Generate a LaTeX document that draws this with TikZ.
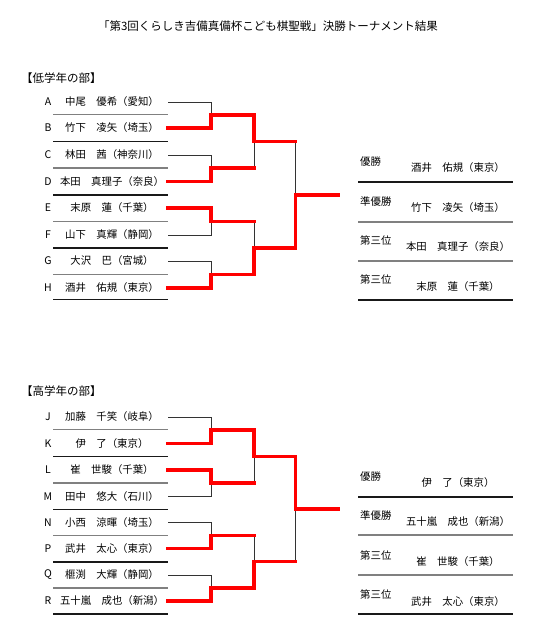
\documentclass[tikz,border=0pt]{standalone}
\usepackage{fontspec}
\setmainfont{Noto Sans CJK JP}
\begin{document}
\begin{tikzpicture}[x=1pt,y=-1pt,
  win/.style={draw=red,line width=3.2pt,line cap=rect,line join=miter},
  lose/.style={draw=black!80,line width=0.9pt},
  ulg/.style={draw=black!50,line width=1.1pt},
  ulb/.style={draw=black!90,line width=1.7pt},
  letter/.style={font=\fontsize{10.5}{12}\selectfont,anchor=center,inner sep=0pt},
  pname/.style={font=\fontsize{10.4}{12}\selectfont,anchor=center,inner sep=0pt},
  rlab/.style={font=\fontsize{10.4}{12}\selectfont,anchor=west,inner sep=0pt},
  head/.style={font=\fontsize{11.5}{13}\selectfont,anchor=west,inner sep=0pt},
  ttl/.style={font=\fontsize{11.5}{13}\selectfont,anchor=center,inner sep=0pt}]
\useasboundingbox (0,0) rectangle (543,640);
\fill[white] (0,0) rectangle (543,640);

\node[ttl] (title) at (268,26) {「第3回くらしき吉備真備杯こども棋聖戦」決勝トーナメント結果};

% ---------------- low grade ----------------
\node[head] (h1) at (21,78) {【低学年の部】};
\foreach \l/\n/\y [count=\i] in {A/中尾　優希（愛知）/102, B/竹下　凌矢（埼玉）/128, C/林田　茜（神奈川）/155, D/本田　真理子（奈良）/181.5, E/末原　蓮（千葉）/208, F/山下　真輝（静岡）/235, G/大沢　巴（宮城）/261, H/酒井　佑規（東京）/288}{
  \node[letter] (L\l) at (48,\y) {\l};
  \node[pname] (N\l) at (112,\y) {\n};
  \coordinate (E\l) at (168,\y);
}
\foreach \y/\s in {114.5/ulg,141.5/ulb,168/ulg,195/ulb,221.5/ulg,248/ulb,274.5/ulg,299.5/ulb}{
  \draw[\s] (53,\y) -- (168,\y);
}
% junctions
\coordinate (jAB) at (211,115);
\coordinate (jCD) at (211,168);
\coordinate (jEF) at (211,221.5);
\coordinate (jGH) at (211,274.5);
\coordinate (jAD) at (254,141.5);
\coordinate (jEH) at (254,248);
\coordinate (jF1) at (295.5,195);
\coordinate (champ1) at (338,195);
% losing lines
\draw[lose] (EA) -| (jAB);
\draw[lose] (EC) -| (jCD);
\draw[lose] (EF) -| (jEF);
\draw[lose] (EG) -| (jGH);
\draw[lose] (254,168) -- (jAD);
\draw[lose] (254,221.5) -- (jEH);
\draw[lose] (295.5,141.5) -- (jF1);
% winning lines
\draw[win] (EB) -| (jAB) -- (254,115) -- (jAD) -- (295.5,141.5);
\draw[win] (ED) -| (jCD) -- (254,168);
\draw[win] (EE) -| (jEF) -- (254,221.5);
\draw[win] (EH) -| (jGH) -- (254,274.5) -- (jEH) -- (295.5,248) -- (jF1) -- (champ1);

% results low
\foreach \y/\s in {182/ulb,222/ulg,261/ulg,300/ulb}{
  \draw[\s] (358,\y) -- (513,\y);
}
\node[rlab] (r1a) at (360,162) {優勝};
\node[rlab] (r1b) at (360,202) {準優勝};
\node[rlab] (r1c) at (360,241) {第三位};
\node[rlab] (r1d) at (360,280) {第三位};
\node[pname] (s1a) at (458,168) {酒井　佑規（東京）};
\node[pname] (s1b) at (458,208) {竹下　凌矢（埼玉）};
\node[pname] (s1c) at (458,247) {本田　真理子（奈良）};
\node[pname] (s1d) at (458,287) {末原　蓮（千葉）};

% ---------------- high grade ----------------
\node[head] (h2) at (21,391) {【高学年の部】};
\foreach \l/\n/\y [count=\i] in {J/加藤　千笑（岐阜）/417, K/伊　了（東京）/443.5, L/崔　世駿（千葉）/470, M/田中　悠大（石川）/496.5, N/小西　涼暉（埼玉）/522.5, P/武井　太心（東京）/548.5, Q/榧渕　大輝（静岡）/575, R/五十嵐　成也（新潟）/601}{
  \node[letter] (L\l) at (48,\y) {\l};
  \node[pname] (N\l) at (112,\y) {\n};
  \coordinate (E\l) at (168,\y);
}
\foreach \y/\s in {429.5/ulg,456.5/ulb,483/ulg,509.5/ulb,535.5/ulg,562/ulb,588/ulg,614/ulb}{
  \draw[\s] (53,\y) -- (168,\y);
}
\coordinate (jJK) at (211,430);
\coordinate (jLM) at (211,483);
\coordinate (jNP) at (211,535.5);
\coordinate (jQR) at (211,588);
\coordinate (jJM) at (254,456.5);
\coordinate (jNR) at (254,561.5);
\coordinate (jF2) at (295.5,509);
\coordinate (champ2) at (338,509);
\draw[lose] (EJ) -| (jJK);
\draw[lose] (EM) -| (jLM);
\draw[lose] (EN) -| (jNP);
\draw[lose] (EQ) -| (jQR);
\draw[lose] (254,483) -- (jJM);
\draw[lose] (254,535.5) -- (jNR);
\draw[lose] (295.5,561.5) -- (jF2);
\draw[win] (EK) -| (jJK) -- (254,430) -- (jJM) -- (295.5,456.5) -- (jF2) -- (champ2);
\draw[win] (EL) -| (jLM) -- (254,483);
\draw[win] (EP) -| (jNP) -- (254,535.5);
\draw[win] (ER) -| (jQR) -- (254,588) -- (jNR) -- (295.5,561.5);

% results high
\foreach \y/\s in {497/ulb,535/ulg,575/ulg,614/ulb}{
  \draw[\s] (358,\y) -- (513,\y);
}
\node[rlab] (r2a) at (360,477) {優勝};
\node[rlab] (r2b) at (360,516) {準優勝};
\node[rlab] (r2c) at (360,556) {第三位};
\node[rlab] (r2d) at (360,595) {第三位};
\node[pname] (s2a) at (458,483) {伊　了（東京）};
\node[pname] (s2b) at (458,522) {五十嵐　成也（新潟）};
\node[pname] (s2c) at (458,562) {崔　世駿（千葉）};
\node[pname] (s2d) at (458,602) {武井　太心（東京）};
\end{tikzpicture}
\end{document}
